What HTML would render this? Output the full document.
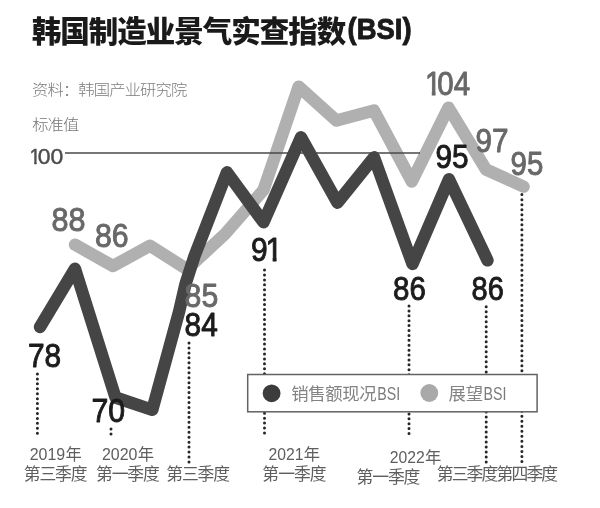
<!DOCTYPE html>
<html lang="zh">
<head>
<meta charset="utf-8">
<title>韩国制造业景气实查指数(BSI)</title>
<style>
html,body{margin:0;padding:0;background:#fff;}
body{width:600px;height:508px;overflow:hidden;font-family:"Liberation Sans","Noto Sans CJK SC",sans-serif;}
svg{display:block;}
text{white-space:pre;}
.num{font-family:"Liberation Sans",sans-serif;}
.cjk{font-family:"Liberation Sans","Noto Sans CJK SC",sans-serif;}
</style>
</head>
<body>
<svg width="600" height="508" viewBox="0 0 600 508">
<rect width="600" height="508" fill="#fff"/>
<!-- title -->
<text transform="translate(31.8,41.6)" class="cjk" font-size="29.5" font-weight="900" fill="#1a1a1a"><tspan letter-spacing="-1">韩国制造业景气实查指数</tspan><tspan x="315.8" y="-2.2" class="num" font-weight="700" letter-spacing="0" stroke="#1a1a1a" stroke-width="0.9" stroke-linejoin="round" textLength="64" lengthAdjust="spacingAndGlyphs">(BSI)</tspan></text>
<text transform="translate(32,94.6) scale(1.0867,1)" class="cjk" font-size="15" letter-spacing="-0.78" fill="#7c7c7c" font-weight="300">资料：韩国产业研究院</text>
<text transform="translate(32.3,130) scale(1.0867,1)" class="cjk" font-size="15" letter-spacing="-0.9" fill="#747474" font-weight="300">标准值</text>
<!-- dotted guides -->
<g stroke="#262626" stroke-width="3" stroke-linecap="round" fill="none">
<line x1="37.4" y1="374" x2="37.4" y2="433.21" stroke-dasharray="0 4.933"/>
<line x1="111" y1="429" x2="111" y2="434.01" stroke-dasharray="0 5.000"/>
<line x1="189" y1="343" x2="189" y2="462.01" stroke-dasharray="0 4.958"/>
<line x1="264.5" y1="270" x2="264.5" y2="433.01" stroke-dasharray="0 4.939"/>
<line x1="409" y1="306" x2="409" y2="433.51" stroke-dasharray="0 4.904"/>
<line x1="486.2" y1="306.8" x2="486.2" y2="462.01" stroke-dasharray="0 5.006"/>
<line x1="521.9" y1="194.6" x2="521.9" y2="461.51" stroke-dasharray="0 5.036"/>
</g>
<!-- series: outlook BSI -->
<polyline fill="none" stroke="#b0b0b0" stroke-width="12.4" stroke-linejoin="round" stroke-linecap="round" points="75,244.7 113,266 150,245.7 187,269.2 225,234 263.5,190 298.7,86.6 336.5,120.6 374,110.6 411.8,181.5 448.5,107.6 486,169.5 523.6,186.6"/>
<!-- baseline 100 -->
<line x1="65" y1="153" x2="420" y2="153" stroke="#484848" stroke-width="1.7"/>
<!-- series: sales BSI -->
<polyline fill="none" stroke="#454545" stroke-width="12.4" stroke-linejoin="round" stroke-linecap="round" points="40,327 75,268.8 115.5,397.5 152.3,409.8 179,312 185.5,284 194.5,256 227,172.3 263.5,222.2 301,137.3 337.5,202.7 374,157.3 412.5,264 449,179.3 487.5,260.3"/>
<!-- value labels -->
<g class="num" font-size="33.7" fill="#1c1c1c" stroke="#1c1c1c" stroke-width="0.95" stroke-linejoin="round">
<text x="28.03" y="367.48" textLength="33.21" lengthAdjust="spacingAndGlyphs">78</text>
<text x="91.38" y="422.05" textLength="33.68" lengthAdjust="spacingAndGlyphs">70</text>
<text x="184.6" y="336.05" textLength="33.2" lengthAdjust="spacingAndGlyphs">84</text>
<clipPath id="ft91"><path clip-rule="evenodd" d="M0,0H600V508H0Z M265.93,257.82H272.67V264.17H265.93Z M276.54,257.82H283.04V264.17H276.54Z"/></clipPath>
<text clip-path="url(#ft91)"><tspan x="250.95" y="261.17" textLength="16.68" lengthAdjust="spacingAndGlyphs">9</tspan><tspan x="265.52" y="261.17" textLength="17.13" lengthAdjust="spacingAndGlyphs">1</tspan></text>
<text x="393.1" y="299.54" textLength="32.8" lengthAdjust="spacingAndGlyphs">86</text>
<text x="471.6" y="299.54" textLength="32.3" lengthAdjust="spacingAndGlyphs">86</text>
<text x="435.41" y="168.2" textLength="33.11" lengthAdjust="spacingAndGlyphs">95</text>
</g>
<g class="num" font-size="33.7" fill="#686868" stroke="#686868" stroke-width="0.95" stroke-linejoin="round">
<text x="51.6" y="231.02" textLength="33.96" lengthAdjust="spacingAndGlyphs">88</text>
<text x="94.91" y="247.15" textLength="33.68" lengthAdjust="spacingAndGlyphs">86</text>
<text x="184.6" y="306.82" textLength="33.65" lengthAdjust="spacingAndGlyphs">85</text>
<clipPath id="ft104"><path clip-rule="evenodd" d="M0,0H600V508H0Z M425.33,92.01H431.81V98.36H425.33Z M435.51,92.01H440.35V98.36H435.51Z"/></clipPath>
<text clip-path="url(#ft104)"><tspan x="425.02" y="95.36" textLength="16.29" lengthAdjust="spacingAndGlyphs">1</tspan><tspan x="437.32" y="95.36" textLength="32.82" lengthAdjust="spacingAndGlyphs">04</tspan></text>
<text x="475.41" y="151.77" textLength="33.02" lengthAdjust="spacingAndGlyphs">97</text>
<text x="510.57" y="174.51" textLength="32.68" lengthAdjust="spacingAndGlyphs">95</text>
</g>
<g class="num" font-size="22.9" fill="#4c4c4c" stroke="#4c4c4c" stroke-width="0.45" stroke-linejoin="round">
<clipPath id="ft100"><path clip-rule="evenodd" d="M0,0H600V508H0Z M29.37,161.32H34.20V166.61H29.37Z M36.65,161.32H39.93V166.61H36.65Z"/></clipPath>
<text clip-path="url(#ft100)"><tspan x="29.55" y="163.61" textLength="11.08" lengthAdjust="spacingAndGlyphs">1</tspan><tspan x="37.67" y="163.61" textLength="25.54" lengthAdjust="spacingAndGlyphs">00</tspan></text>
</g>
<!-- legend -->
<rect x="247.7" y="374.5" width="289.4" height="37.3" fill="#fff" stroke="#626262" stroke-width="1.5"/>
<circle cx="271.6" cy="393.3" r="8.9" fill="#3c3c3c"/>
<text transform="translate(291.2,399.7) scale(1.0235,1)" class="cjk" font-size="17" fill="#838383"><tspan letter-spacing="-0.391">销售额现况</tspan><tspan x="84.123" y="0.1" class="num" font-size="18.5" fill="#7c7c7c" letter-spacing="0" textLength="22.472" lengthAdjust="spacingAndGlyphs">BSI</tspan></text>
<circle cx="429.3" cy="393" r="8.9" fill="#a9a9a9"/>
<text transform="translate(448.5,399.7) scale(1.0235,1)" class="cjk" font-size="17" fill="#838383"><tspan letter-spacing="-0.098">展望</tspan><tspan x="34.294" y="0.1" class="num" font-size="18.5" fill="#7c7c7c" letter-spacing="0" textLength="22.472" lengthAdjust="spacingAndGlyphs">BSI</tspan></text>
<!-- axis labels -->
<g fill="#5e5e5e" font-size="17.3">
<text transform="translate(29.7,459.8)"><tspan class="num" textLength="35.5" lengthAdjust="spacingAndGlyphs">2019</tspan><tspan x="35.7" y="-0.3" class="cjk" font-size="16.3">年</tspan></text>
<text transform="translate(23.8,479.8) scale(0.9711,1)" class="cjk" letter-spacing="-1.184">第三季度</text>
<text transform="translate(102,459.8)"><tspan class="num" textLength="35.5" lengthAdjust="spacingAndGlyphs">2020</tspan><tspan x="35.7" y="-0.3" class="cjk" font-size="16.3">年</tspan></text>
<text transform="translate(96,479.8) scale(0.9711,1)" class="cjk" letter-spacing="-1.184">第一季度</text>
<text transform="translate(166.3,479.8) scale(0.9711,1)" class="cjk" letter-spacing="-1.184">第三季度</text>
<text transform="translate(268.6,459.8)"><tspan class="num" textLength="35" lengthAdjust="spacingAndGlyphs">2021</tspan><tspan x="35.2" y="-0.3" class="cjk" font-size="16.3">年</tspan></text>
<text transform="translate(262.3,479.8) scale(0.9711,1)" class="cjk" letter-spacing="-0.978">第一季度</text>
<text transform="translate(389.7,462.8)"><tspan class="num" textLength="35" lengthAdjust="spacingAndGlyphs">2022</tspan><tspan x="35.2" y="-0.3" class="cjk" font-size="16.3">年</tspan></text>
<text transform="translate(356.6,483.3) scale(0.9711,1)" class="cjk" letter-spacing="-1.184">第一季度</text>
<text transform="translate(436.8,479.8) scale(0.9711,1)" class="cjk" letter-spacing="-1.957">第三季度</text>
<text transform="translate(496.6,479.8) scale(0.9711,1)" class="cjk" letter-spacing="-1.957">第四季度</text>
</g>
</svg>
</body>
</html>
